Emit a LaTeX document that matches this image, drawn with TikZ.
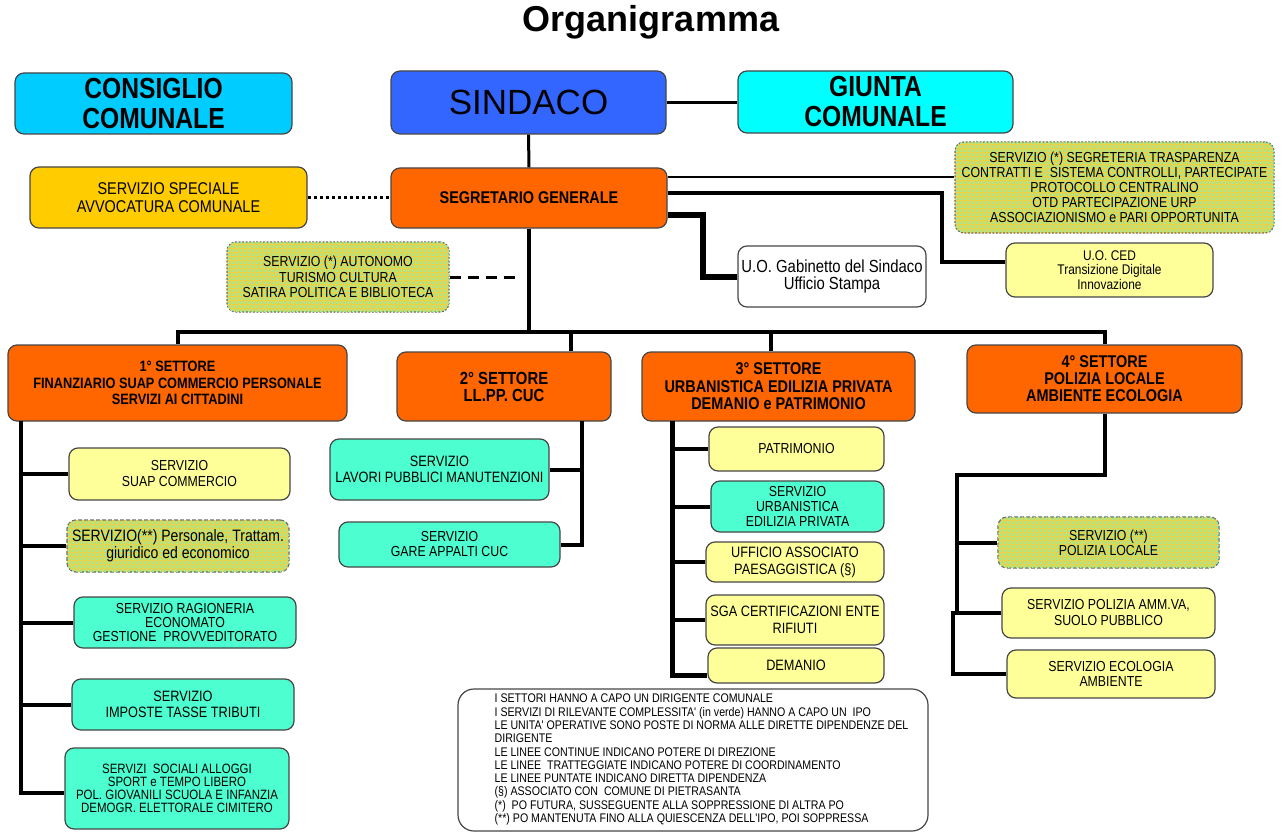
\documentclass[tikz,border=0pt]{standalone}
\usepackage{fontspec}
\setmainfont{Liberation Sans}
\newfontfamily\nar{Liberation Sans}[FakeStretch=0.85]
\usetikzlibrary{patterns}
\definecolor{cCons}{RGB}{0,204,255}
\definecolor{cSind}{RGB}{51,102,255}
\definecolor{cGiun}{RGB}{0,255,255}
\definecolor{cAvv}{RGB}{255,204,0}
\definecolor{cOr}{RGB}{255,102,0}
\definecolor{cYel}{RGB}{255,255,153}
\definecolor{cAq}{RGB}{77,255,208}
\definecolor{cHatA}{RGB}{246,206,60}
\definecolor{cHatB}{RGB}{125,245,185}
\definecolor{cBord}{RGB}{70,70,70}
\newcommand\fsz[2]{\fontsize{#1}{#2}\selectfont}
\pgfdeclarepatternformonly{checker}{\pgfpointorigin}{\pgfpoint{4pt}{4pt}}{\pgfpoint{4pt}{4pt}}{%
  \pgfpathrectangle{\pgfpointorigin}{\pgfpoint{2pt}{2pt}}%
  \pgfpathrectangle{\pgfpoint{2pt}{2pt}}{\pgfpoint{2pt}{2pt}}%
  \pgfusepath{fill}}
\tikzset{
  box/.style={draw=cBord, line width=1.2pt, rounded corners=9pt, align=center, inner sep=0pt, text=black},
  sz/.style n args={2}{minimum width=#1pt, minimum height=#2pt},
  boxOr/.style={box, fill=cOr},
  boxYel/.style={box, fill=cYel},
  boxAq/.style={box, fill=cAq},
  boxHat/.style={box, fill=cHatA, postaction={pattern=checker, pattern color=cHatB}, draw=cBord!80, dash pattern=on 2pt off 1.5pt},
  boxHatD/.style={boxHat, dash pattern=on 4pt off 2pt},
  ln/.style={line width=4pt},
  lnB/.style={line width=2.5pt},
  lnC/.style={line width=4pt},
  lnD/.style={line width=6pt},
}
\begin{document}
\begin{tikzpicture}[x=1pt,y=-1pt]
\useasboundingbox (0,0) rectangle (1283,832);
\fill[white] (0,0) rectangle (1283,832);

\node[font=\bfseries\fsz{36}{40}] (title) at (651,22) {Organigramma};

% top level
\node[box, fill=cCons, sz={277}{61}, font=\nar\bfseries\fsz{29}{30}] (cons) at (153.5,103.5) {CONSIGLIO\\COMUNALE};
\node[box, fill=cSind, sz={275}{63}, font=\fsz{35}{40}] (sind) at (528.5,102.5) {SINDACO};
\node[box, fill=cGiun, sz={275}{62}, font=\nar\bfseries\fsz{29}{30}] (giun) at (875.5,102) {GIUNTA\\COMUNALE};
\node[box, fill=cAvv, sz={277}{61}, font=\nar\fsz{17}{18}] (avv) at (168.5,197.5) {SERVIZIO SPECIALE\\AVVOCATURA COMUNALE};
\node[boxOr, sz={276}{60}, font=\nar\bfseries\fsz{17}{17}] (seg) at (529,198) {SEGRETARIO GENERALE};
\node[boxHat, sz={222}{70}, font=\nar\fsz{14.5}{15.5}] (auto) at (338,277) {SERVIZIO (*) AUTONOMO\\TURISMO CULTURA\\SATIRA POLITICA E BIBLIOTECA};
\node[boxHat, sz={319}{91}, font=\nar\fsz{14.5}{15}] (segr) at (1114.5,187.5) {SERVIZIO (*) SEGRETERIA TRASPARENZA\\CONTRATTI E\ \ SISTEMA CONTROLLI, PARTECIPATE\\PROTOCOLLO CENTRALINO\\OTD PARTECIPAZIONE URP\\ASSOCIAZIONISMO e PARI OPPORTUNITA};
\node[box, fill=white, sz={188}{61}, font=\nar\fsz{17.5}{17}] (gab) at (832,276.5) {U.O. Gabinetto del Sindaco\\Ufficio Stampa};
\node[boxYel, sz={207}{54}, font=\nar\fsz{14}{14.5}] (ced) at (1109.5,270) {U.O. CED\\Transizione Digitale\\Innovazione};

% settori
\node[boxOr, sz={339}{76}, font=\nar\bfseries\fsz{15}{16.5}] (s1) at (177.5,383) {1° SETTORE\\FINANZIARIO SUAP COMMERCIO PERSONALE\\SERVIZI AI CITTADINI};
\node[boxOr, sz={214}{69}, font=\nar\bfseries\fsz{17.5}{17}] (s2) at (504,386.5) {2° SETTORE\\LL.PP. CUC};
\node[boxOr, sz={273}{69}, font=\nar\bfseries\fsz{17}{17.5}] (s3) at (778.5,386.5) {3° SETTORE\\URBANISTICA EDILIZIA PRIVATA\\DEMANIO e PATRIMONIO};
\node[boxOr, sz={275}{68}, font=\nar\bfseries\fsz{17}{17}] (s4) at (1104.5,379) {4° SETTORE\\POLIZIA LOCALE\\AMBIENTE ECOLOGIA};

% 1st sector services
\node[boxYel, sz={221}{52}, font=\nar\fsz{14.5}{16}] (suap) at (179.5,474) {SERVIZIO\\SUAP COMMERCIO};
\node[boxHatD, sz={222}{52}, font=\nar\fsz{16.5}{17}] (pers) at (178,546) {SERVIZIO(**) Personale, Trattam.\\giuridico ed economico};
\node[boxAq, sz={222}{51}, font=\nar\fsz{14.5}{14}] (rag) at (185,622.5) {SERVIZIO RAGIONERIA\\ECONOMATO\\GESTIONE\ \ PROVVEDITORATO};
\node[boxAq, sz={222}{51}, font=\nar\fsz{15}{16}] (imp) at (183,704.5) {SERVIZIO\\IMPOSTE TASSE TRIBUTI};
\node[boxAq, sz={224}{81}, font=\nar\fsz{13.5}{13}] (soc) at (177,788.5) {SERVIZI\ \ SOCIALI ALLOGGI\\SPORT e TEMPO LIBERO\\POL. GIOVANILI SCUOLA E INFANZIA\\DEMOGR. ELETTORALE CIMITERO};

% 2nd sector services
\node[boxAq, sz={219}{61}, font=\nar\fsz{15}{16}] (lav) at (439.5,469.5) {SERVIZIO\\LAVORI PUBBLICI MANUTENZIONI};
\node[boxAq, sz={221}{45}, font=\nar\fsz{14.5}{15}] (gare) at (449.5,544.5) {SERVIZIO\\GARE APPALTI CUC};

% 3rd sector services
\node[boxYel, sz={175}{44}, font=\nar\fsz{14.5}{15}] (pat) at (796.5,449) {PATRIMONIO};
\node[boxAq, sz={173}{51}, font=\nar\fsz{14.5}{15}] (urb) at (797.5,506.5) {SERVIZIO\\URBANISTICA\\EDILIZIA PRIVATA};
\node[boxYel, sz={178}{40}, font=\nar\fsz{15}{17}] (uff) at (795,562) {UFFICIO ASSOCIATO\\PAESAGGISTICA (§)};
\node[boxYel, sz={178}{50}, font=\nar\fsz{15}{17}] (sga) at (795,620) {SGA CERTIFICAZIONI ENTE\\RIFIUTI};
\node[boxYel, sz={176}{35}, font=\nar\fsz{15}{15}] (dem) at (796,665.5) {DEMANIO};

% 4th sector services
\node[boxHatD, sz={221}{51}, font=\nar\fsz{14.5}{15}] (pol) at (1108.5,542.5) {SERVIZIO (**)\\POLIZIA LOCALE};
\node[boxYel, sz={213}{50}, font=\nar\fsz{14.5}{16}] (amm) at (1108.5,613) {SERVIZIO POLIZIA AMM.VA,\\SUOLO PUBBLICO};
\node[boxYel, sz={208}{48}, font=\nar\fsz{14.5}{15}] (eco) at (1111,674) {SERVIZIO ECOLOGIA\\AMBIENTE};

% legend
\node[box, fill=white, rounded corners=16pt, sz={470}{142}, font=\nar\fsz{12.5}{13.3}] (leg) at (693,760) {\hspace*{17pt}\begin{tabular}{@{}l@{}}
I SETTORI HANNO A CAPO UN DIRIGENTE COMUNALE\\
I SERVIZI DI RILEVANTE COMPLESSITA' (in verde) HANNO A CAPO UN\ \ IPO\\
LE UNITA' OPERATIVE SONO POSTE DI NORMA ALLE DIRETTE DIPENDENZE DEL\\
DIRIGENTE\\
LE LINEE CONTINUE INDICANO POTERE DI DIREZIONE\\
LE LINEE\ \ TRATTEGGIATE INDICANO POTERE DI COORDINAMENTO\\
LE LINEE PUNTATE INDICANO DIRETTA DIPENDENZA\\
(§) ASSOCIATO CON\ \ COMUNE DI PIETRASANTA\\
(*)\ \ PO FUTURA, SUSSEGUENTE ALLA SOPPRESSIONE DI ALTRA PO\\
(**) PO MANTENUTA FINO ALLA QUIESCENZA DELL'IPO, POI SOPPRESSA
\end{tabular}};

% ---------- connectors ----------
\draw[line width=3pt] (sind.east) -- (giun.west |- sind.east);
\draw[line width=3pt] (sind.south) -- (seg.north);
\draw[line width=3.5pt, dash pattern=on 3pt off 3pt] (avv.east) -- (seg.west |- avv.east);
\coordinate (dsh) at (520,277);
\draw[line width=3pt, dash pattern=on 11pt off 7pt] (auto.east) -- (dsh);

\coordinate (j1) at (942,193);
\coordinate (j1b) at (942,262);
\coordinate (j2) at (703,215);
\draw[lnB] (seg.east |- 0,177) -- (segr.west |- 0,177);
\draw[lnC] (seg.east |- j1) -- (j1) -- (j1b) -- (ced.west |- j1b);
\draw[lnD] (seg.east |- j2) -- (j2) |- (gab.west);

\coordinate (busL) at (178,332);
\coordinate (busR) at (1105,332);
\coordinate (b2) at (571,332);
\coordinate (b3) at (771,332);
\draw[ln] (seg.south) -- (seg.south |- busL);
\draw[ln] (busL |- s1.north) -- (busL) -- (busR) -- (busR |- s4.north);
\draw[ln] (b2) -- (b2 |- s2.north);
\draw[ln] (b3) -- (b3 |- s3.north);

% sector 1 tree
\coordinate (v1) at (21,421);
\coordinate (v1e) at (21,793);
\draw[ln] (v1) -- (v1e) -- (soc.west |- v1e);
\draw[ln] (v1 |- suap.west) -- (suap.west);
\draw[ln] (v1 |- pers.west) -- (pers.west);
\draw[ln] (v1 |- rag.west) -- (rag.west);
\draw[ln] (v1 |- imp.west) -- (imp.west);

% sector 2 tree
\coordinate (v2) at (582,421);
\draw[ln] (v2) |- (gare.east);
\draw[ln] (v2 |- lav.east) -- (lav.east);

% sector 3 tree
\coordinate (v3) at (672,421);
\coordinate (v3e) at (672,675);
\draw[line width=5pt] (v3) -- (v3e) -- (dem.west |- v3e);
\draw[ln] (v3 |- pat.west) -- (pat.west);
\draw[ln] (v3 |- urb.west) -- (urb.west);
\draw[ln] (v3 |- uff.west) -- (uff.west);
\draw[ln] (v3 |- sga.west) -- (sga.west);

% sector 4 tree
\coordinate (k1) at (1105,475);
\coordinate (k2) at (957,475);
\coordinate (k3) at (957,613);
\coordinate (k4) at (953,613);
\coordinate (k5) at (953,674);
\draw[ln] (s4.south -| k1) -- (k1) -- (k2) -- (k3) -- (k4) -- (k5) -- (eco.west |- k5);
\draw[ln] (k2 |- pol.west) -- (pol.west);
\draw[ln] (k3) -- (amm.west |- k3);
\end{tikzpicture}
\end{document}
